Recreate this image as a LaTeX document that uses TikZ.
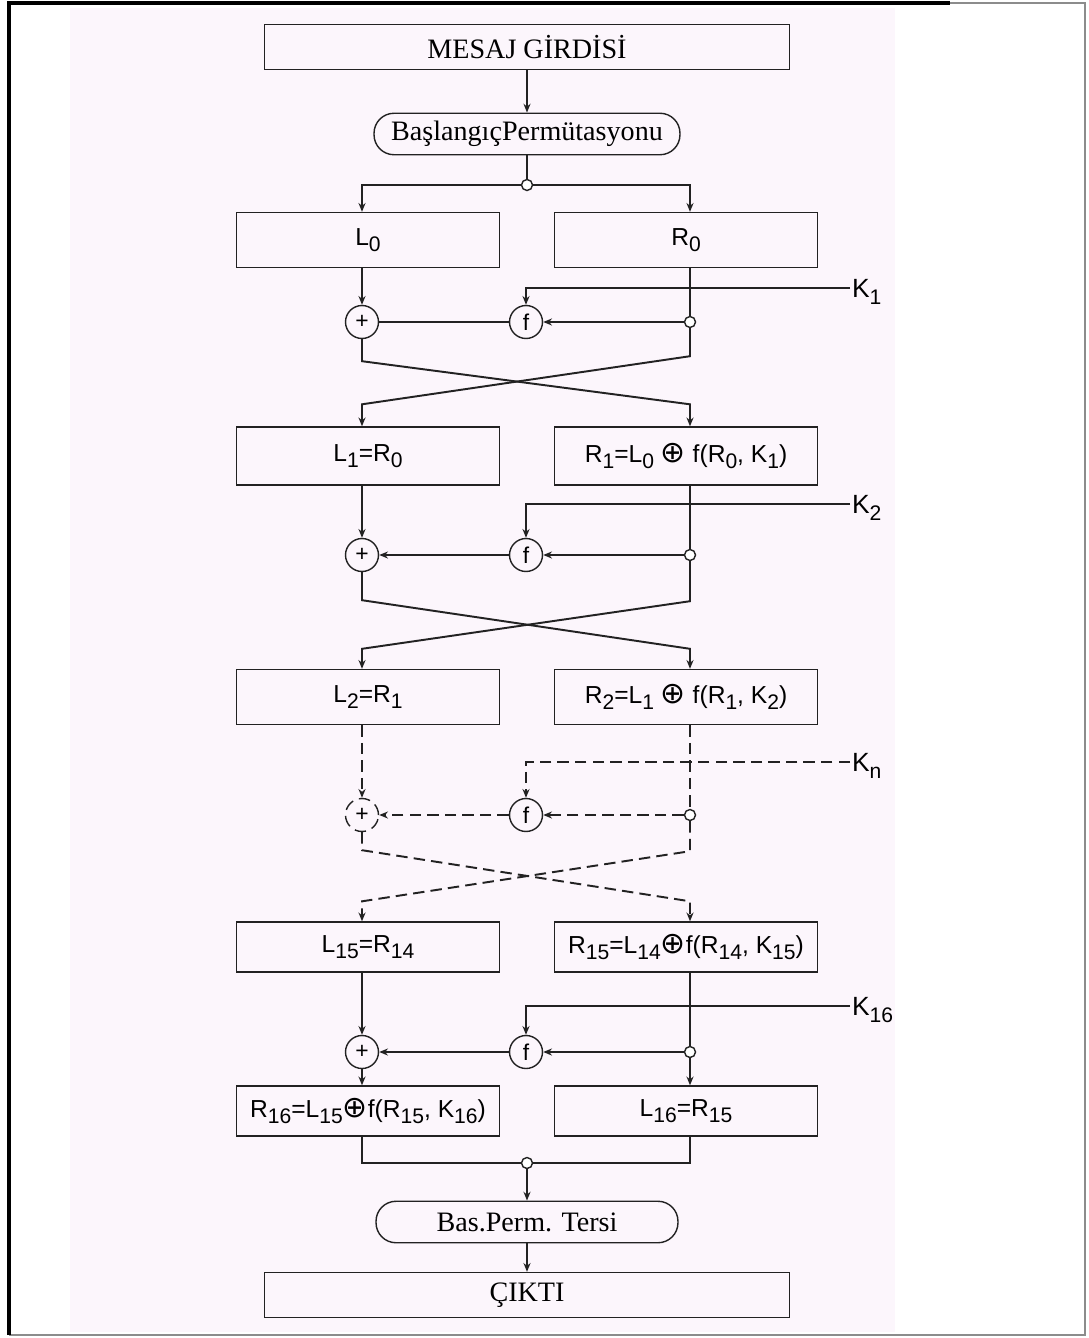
\documentclass[tikz,border=0pt]{standalone}
\usepackage{fontspec}
\setmainfont{Liberation Serif}
\newfontfamily\lblfont{Liberation Sans}
\newfontfamily\symfont{DejaVu Sans}
\usetikzlibrary{arrows.meta, positioning, calc}
\definecolor{ink}{HTML}{222222}
\definecolor{pageTint}{HTML}{FCF6FC}
\definecolor{edgeGray}{HTML}{8C8C8C}
\newcommand{\ix}[1]{\raisebox{-0.5ex}{\fontsize{12}{12}\selectfont #1}}
\newcommand{\xorop}{{\symfont\fontsize{17}{17}\selectfont ⊕}}

\begin{document}
\begin{tikzpicture}[
  x=0.02cm, y=-0.02cm,
  box/.style={draw=ink, line width=0.8pt, minimum width=5.26cm, minimum height=1.1cm,
              inner sep=0pt, font=\lblfont\fontsize{14}{15}\selectfont},
  wide/.style={draw=ink, line width=0.8pt, minimum width=10.5cm, minimum height=0.9cm,
               inner sep=0pt, font=\fontsize{16}{18}\selectfont},
  perm/.style={draw=ink, line width=0.8pt, rounded corners=0.4cm, minimum height=0.83cm,
               inner sep=0pt, font=\fontsize{16}{18}\selectfont},
  op/.style={circle, draw=ink, line width=0.8pt, minimum size=0.66cm, inner sep=0pt,
             font=\lblfont\fontsize{13}{13}\selectfont},
  jn/.style={circle, draw=ink, line width=0.8pt, fill=white, minimum size=0.22cm, inner sep=0pt},
  key/.style={anchor=west, inner sep=1pt, font=\lblfont\fontsize{15}{16}\selectfont},
  ln/.style={draw=ink, line width=1.1pt},
  arr/.style={ln, -{Stealth[length=5pt,width=4pt]}},
  dsh/.style={dash pattern=on 6.5pt off 3.5pt}
]
  \useasboundingbox (0,0) rectangle (1088,1338);
  \fill[pageTint] (70,8) rectangle (895,1332);
  \draw[edgeGray, line width=1.2pt] (950,3) -- (1085,3) -- (1085,1335) -- (9,1335);
  \draw[black, line width=1.8pt] (9,1335) -- (9,3) -- (950,3);

  \node[wide] (msg) at (527,47) {MESAJ GİRDİSİ};
  \node[perm, minimum width=6.12cm] (ip) at (527,134) {BaşlangıçPermütasyonu};
  \node[jn] (j0) at (527,185) {};

  \node[box] (L0) at (368,240) {L\ix{0}};
  \node[box] (R0) at (686,240) {R\ix{0}};
  \node[op] (p1) at (362,322) {+};
  \node[op] (f1) at (526,322) {f};
  \node[jn] (j1) at (690,322) {};
  \node[key] (k1) at (850,292) {K\ix{1}};

  \node[box, minimum height=1.16cm] (L1) at (368,456) {L\ix{1}=R\ix{0}};
  \node[box, minimum height=1.16cm] (R1) at (686,456) {R\ix{1}=L\ix{0} \xorop{} f(R\ix{0}, K\ix{1})};
  \node[op] (p2) at (362,555) {+};
  \node[op] (f2) at (526,555) {f};
  \node[jn] (j2) at (690,555) {};
  \node[key] (k2) at (850,508) {K\ix{2}};

  \node[box] (L2) at (368,697) {L\ix{2}=R\ix{1}};
  \node[box] (R2) at (686,697) {R\ix{2}=L\ix{1} \xorop{} f(R\ix{1}, K\ix{2})};
  \node[op, dsh] (p3) at (362,815) {+};
  \node[op] (f3) at (526,815) {f};
  \node[jn] (j3) at (690,815) {};
  \node[key] (kn) at (850,766) {K\ix{n}};

  \node[box, minimum height=1.0cm] (L15) at (368,947) {L\ix{15}=R\ix{14}};
  \node[box, minimum height=1.0cm] (R15) at (686,947) {R\ix{15}=L\ix{14}\xorop{}f(R\ix{14}, K\ix{15})};
  \node[op] (p4) at (362,1052) {+};
  \node[op] (f4) at (526,1052) {f};
  \node[jn] (j4) at (690,1052) {};
  \node[key] (k16) at (850,1010) {K\ix{16}};

  \node[box, minimum height=1.0cm] (R16) at (368,1111) {R\ix{16}=L\ix{15}\xorop{}f(R\ix{15}, K\ix{16})};
  \node[box, minimum height=1.0cm] (L16) at (686,1111) {L\ix{16}=R\ix{15}};
  \node[jn] (jm) at (527,1163) {};
  \node[perm, minimum width=6.04cm] (inv) at (527,1222) {Bas.Perm. Tersi};
  \node[wide] (out) at (527,1295) {ÇIKTI};

  \draw[arr] (msg) -- (ip);
  \draw[ln] (ip) -- (j0);
  \draw[arr] (j0.west) -| (L0.north -| p1);
  \draw[arr] (j0.east) -| (R0.north -| j1);

  \draw[arr] (L0.south -| p1) -- (p1);
  \draw[ln] (R0.south -| j1) -- (j1);
  \draw[arr] (k1.west) ++(0,-4) -| (f1);
  \draw[arr] (j1) -- (f1);
  \draw[ln] (f1) -- (p1);
  \draw[arr] (p1.south) -- ++(0,22) -- ($(R1.north -| j1)+(0,-22)$) -- (R1.north -| j1);
  \draw[arr] (j1.south) -- ++(0,28) -- ($(L1.north -| p1)+(0,-22)$) -- (L1.north -| p1);

  \draw[arr] (L1.south -| p2) -- (p2);
  \draw[ln] (R1.south -| j2) -- (j2);
  \draw[arr] (k2.west) ++(0,-4) -| (f2);
  \draw[arr] (j2) -- (f2);
  \draw[arr] (f2) -- (p2);
  \draw[arr] (p2.south) -- ++(0,28) -- ($(R2.north -| j2)+(0,-20)$) -- (R2.north -| j2);
  \draw[arr] (j2.south) -- ++(0,40) -- ($(L2.north -| p2)+(0,-20)$) -- (L2.north -| p2);

  \draw[arr, dsh] (L2.south -| p3) -- (p3);
  \draw[ln, dsh] (R2.south -| j3) -- (j3);
  \draw[arr, dsh] (kn.west) ++(0,-4) -| (f3);
  \draw[arr, dsh] (j3) -- (f3);
  \draw[arr, dsh] (f3) -- (p3);
  \draw[arr, dsh] (p3.south) -- ++(0,18) -- ($(R15.north -| j3)+(0,-20)$) -- (R15.north -| j3);
  \draw[arr, dsh] (j3.south) -- ++(0,30) -- ($(L15.north -| p3)+(0,-20)$) -- (L15.north -| p3);

  \draw[arr] (L15.south -| p4) -- (p4);
  \draw[ln] (R15.south -| j4) -- (j4);
  \draw[arr] (k16.west) ++(0,-4) -| (f4);
  \draw[arr] (j4) -- (f4);
  \draw[arr] (f4) -- (p4);
  \draw[arr] (p4) -- (R16.north -| p4);
  \draw[arr] (j4) -- (L16.north -| j4);

  \draw[ln] (R16.south -| p4) |- (jm.west);
  \draw[ln] (L16.south -| j4) |- (jm.east);
  \draw[arr] (jm) -- (inv);
  \draw[arr] (inv) -- (out);
\end{tikzpicture}
\end{document}
